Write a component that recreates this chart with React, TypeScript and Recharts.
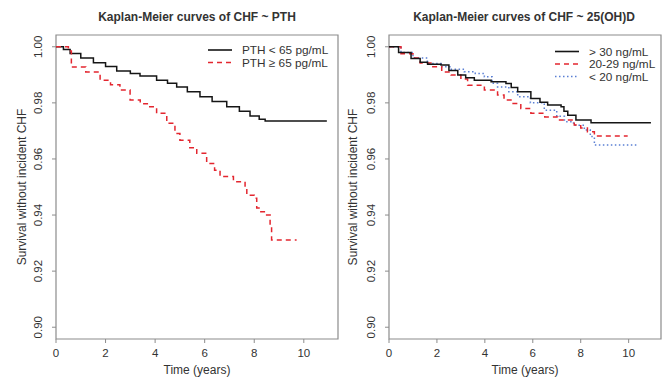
import React from "react";
import { LineChart, Line, XAxis, YAxis, ReferenceArea } from "recharts";

// ---- Data ----
const pthLowT = [0, 0.3, 0.57, 1.0, 1.51, 2.0, 2.45, 3.0, 3.39, 4.06, 4.5, 4.87, 5.3, 5.81, 6.3, 6.89, 7.4, 7.83, 8.2, 8.44, 10.93];
const pthLowS = [1.0, 0.999, 0.9976, 0.996, 0.9943, 0.993, 0.9914, 0.9905, 0.9896, 0.9881, 0.987, 0.9857, 0.984, 0.9822, 0.9805, 0.9786, 0.977, 0.9753, 0.9742, 0.9735, 0.9735];

const pthHighT = [0, 0.5, 0.62, 1.2, 1.78, 2.2, 2.58, 2.99, 3.4, 3.73, 4.06, 4.47, 4.8, 5.0, 5.4, 5.68, 6.08, 6.4, 6.62, 7.16, 7.63, 7.7, 8.0, 8.1, 8.23, 8.5, 8.64, 8.7, 9.71];
const pthHighS = [1.0, 0.9985, 0.9928, 0.991, 0.9881, 0.9865, 0.9846, 0.981, 0.9797, 0.9786, 0.9763, 0.9727, 0.9691, 0.9667, 0.964, 0.962, 0.9584, 0.956, 0.9537, 0.9519, 0.9501, 0.9471, 0.946, 0.9425, 0.9412, 0.94, 0.9358, 0.9311, 0.9311];

const d30T = [0, 0.4, 0.92, 1.3, 1.61, 2.17, 2.5, 2.87, 3.2, 3.56, 4.26, 4.88, 5.1, 5.37, 5.92, 6.3, 6.62, 7.18, 7.3, 7.46, 7.8, 8.43, 10.93];
const d30S = [1.0, 0.998, 0.9958, 0.9945, 0.9938, 0.9935, 0.9915, 0.9899, 0.989, 0.9881, 0.9875, 0.9869, 0.9855, 0.984, 0.9816, 0.9802, 0.9792, 0.9786, 0.977, 0.9756, 0.9739, 0.9729, 0.9729];

const d2029T = [0, 0.5, 1.0, 1.3, 1.75, 2.2, 2.59, 3.0, 3.28, 3.98, 4.53, 4.8, 5.09, 5.5, 5.92, 6.5, 7.04, 7.73, 8.0, 8.28, 8.57, 9.96];
const d2029S = [1.0, 0.9975, 0.996, 0.9942, 0.9929, 0.991, 0.9899, 0.9885, 0.9863, 0.9846, 0.9828, 0.981, 0.9798, 0.978, 0.9763, 0.975, 0.9739, 0.9721, 0.971, 0.9697, 0.9682, 0.9682];

const d20T = [0, 0.5, 1.0, 1.6, 2.17, 2.6, 3.14, 3.6, 3.98, 4.3, 4.53, 5.0, 5.37, 5.9, 6.48, 7.0, 7.32, 7.7, 8.15, 8.4, 8.57, 10.37];
const d20S = [1.0, 0.998, 0.996, 0.994, 0.9929, 0.992, 0.9911, 0.9905, 0.9893, 0.987, 0.9857, 0.984, 0.9822, 0.98, 0.9774, 0.9752, 0.9733, 0.972, 0.9703, 0.968, 0.965, 0.965];

const xTicks = [0, 2, 4, 6, 8, 10];
const yTicks = [0.9, 0.92, 0.94, 0.96, 0.98, 1.0];
const titleLeft = "Kaplan-Meier curves of CHF ~ PTH";
const titleRight = "Kaplan-Meier curves of CHF ~ 25(OH)D";
const xLabel = "Time (years)";
const yLabel = "Survival without incident CHF";
const legendLeft = ["PTH < 65 pg/mL", "PTH \u2265 65 pg/mL"];
const legendRight = ["> 30 ng/mL", "20-29 ng/mL", "< 20 ng/mL"];

const zip = (t: number[], s: number[]) => t.map((v, i) => ({ t: v, s: s[i] }));

const FONT = "'Liberation Sans', Arial, Helvetica, sans-serif";
const AXIS = "#8c8c8c";
const TXT = "#333";
const BLACK = "#151515";
const RED = "#e3262f";
const BLUE = "#5a7fd4";
const Y_MIN = 0.8958;
const Y_MAX = 1.0042;

const styles = {
  solid: { stroke: BLACK, dash: undefined as string | undefined },
  dashed: { stroke: RED, dash: "5 4" },
  dotted: { stroke: BLUE, dash: "1.5 2.5" },
};

type Series = { data: { t: number; s: number }[]; style: { stroke: string; dash?: string } };

function XTick(props: any) {
  const { x, y, payload } = props;
  return (
    <text x={x} y={y} dy="0.71em" textAnchor="middle" fontSize={11.5} fontFamily={FONT} fill={TXT}>
      {payload.value}
    </text>
  );
}

function makeYTick(baseX: number) {
  return (props: any) => {
    const { y, payload } = props;
    return (
      <text
        x={baseX}
        y={y}
        transform={`rotate(-90, ${baseX}, ${y})`}
        textAnchor="middle"
        fontSize={11.5}
        fontFamily={FONT}
        fill={TXT}
      >
        {Number(payload.value).toFixed(2)}
      </text>
    );
  };
}

function KMPanel(props: {
  left: number;
  width: number;
  yAxisWidth: number;
  rightMargin: number;
  xMax: number;
  series: Series[];
}) {
  const { left, width, yAxisWidth, rightMargin, xMax, series } = props;
  return (
    <div style={{ position: "absolute", left, top: 0 }}>
      <LineChart
        width={width}
        height={378}
        margin={{ top: 35, right: rightMargin, bottom: 0, left: 0 }}
      >
        <XAxis
          dataKey="t"
          type="number"
          domain={[0, xMax]}
          ticks={xTicks}
          allowDataOverflow
          axisLine={false}
          tickLine={{ stroke: AXIS }}
          tickSize={4}
          tickMargin={6}
          height={39}
          tick={<XTick />}
          interval={0}
        />
        <YAxis
          type="number"
          domain={[Y_MIN, Y_MAX]}
          ticks={yTicks}
          allowDataOverflow
          axisLine={false}
          tickLine={{ stroke: AXIS }}
          tickSize={4}
          width={yAxisWidth}
          tick={makeYTick(yAxisWidth - 14)}
          interval={0}
        />
        <ReferenceArea
          x1={0}
          x2={xMax}
          y1={Y_MIN}
          y2={Y_MAX}
          fill="none"
          fillOpacity={0}
          stroke={AXIS}
          strokeWidth={1.2}
          ifOverflow="visible"
        />
        {series.map((s, i) => (
          <Line
            key={i}
            data={s.data}
            dataKey="s"
            type="stepAfter"
            stroke={s.style.stroke}
            strokeWidth={1.5}
            strokeDasharray={s.style.dash}
            dot={false}
            activeDot={false}
            isAnimationActive={false}
          />
        ))}
      </LineChart>
    </div>
  );
}

function LegendBlock(props: { x: number; y0: number; gap: number; labels: string[]; kinds: Array<keyof typeof styles> }) {
  const { x, y0, gap, labels, kinds } = props;
  return (
    <g>
      {labels.map((lab, i) => {
        const y = y0 + i * gap;
        const st = styles[kinds[i]];
        return (
          <g key={i}>
            <line x1={x} x2={x + 24} y1={y} y2={y} stroke={st.stroke} strokeWidth={1.6} strokeDasharray={st.dash} />
            <text x={x + 34} y={y} dy="0.36em" fontSize={11.8} fontFamily={FONT} fill={TXT}>
              {lab}
            </text>
          </g>
        );
      })}
    </g>
  );
}

export default function App() {
  const leftSeries: Series[] = [
    { data: zip(pthLowT, pthLowS), style: styles.solid },
    { data: zip(pthHighT, pthHighS), style: styles.dashed },
  ];
  const rightSeries: Series[] = [
    { data: zip(d20T, d20S), style: styles.dotted },
    { data: zip(d2029T, d2029S), style: styles.dashed },
    { data: zip(d30T, d30S), style: styles.solid },
  ];
  return (
    <div style={{ position: "absolute", left: 0, top: 0, width: 662, height: 378, background: "#fff", overflow: "hidden" }}>
      <KMPanel left={0} width={345} yAxisWidth={56} rightMargin={7} xMax={11.38} series={leftSeries} />
      <KMPanel left={331} width={331} yAxisWidth={58} rightMargin={1} xMax={11.35} series={rightSeries} />
      <svg width={662} height={378} style={{ position: "absolute", left: 0, top: 0, pointerEvents: "none" }}>
        <text x={197} y={17} dy="0.36em" textAnchor="middle" fontSize={12} fontWeight="bold" fontFamily={FONT} fill={TXT}>
          {titleLeft}
        </text>
        <text x={524} y={17} dy="0.36em" textAnchor="middle" fontSize={12} fontWeight="bold" fontFamily={FONT} fill={TXT}>
          {titleRight}
        </text>
        <text x={197} y={370} dy="0.36em" textAnchor="middle" fontSize={12} fontFamily={FONT} fill={TXT}>
          {xLabel}
        </text>
        <text x={525} y={370} dy="0.36em" textAnchor="middle" fontSize={12} fontFamily={FONT} fill={TXT}>
          {xLabel}
        </text>
        <text x={22} y={187} dy="0.36em" textAnchor="middle" transform="rotate(-90, 22, 187)" fontSize={12} fontFamily={FONT} fill={TXT}>
          {yLabel}
        </text>
        <text x={353} y={187} dy="0.36em" textAnchor="middle" transform="rotate(-90, 353, 187)" fontSize={12} fontFamily={FONT} fill={TXT}>
          {yLabel}
        </text>
        <LegendBlock x={208} y0={50} gap={12.5} labels={legendLeft} kinds={["solid", "dashed"]} />
        <LegendBlock x={555} y0={51.5} gap={12.5} labels={legendRight} kinds={["solid", "dashed", "dotted"]} />
      </svg>
    </div>
  );
}
